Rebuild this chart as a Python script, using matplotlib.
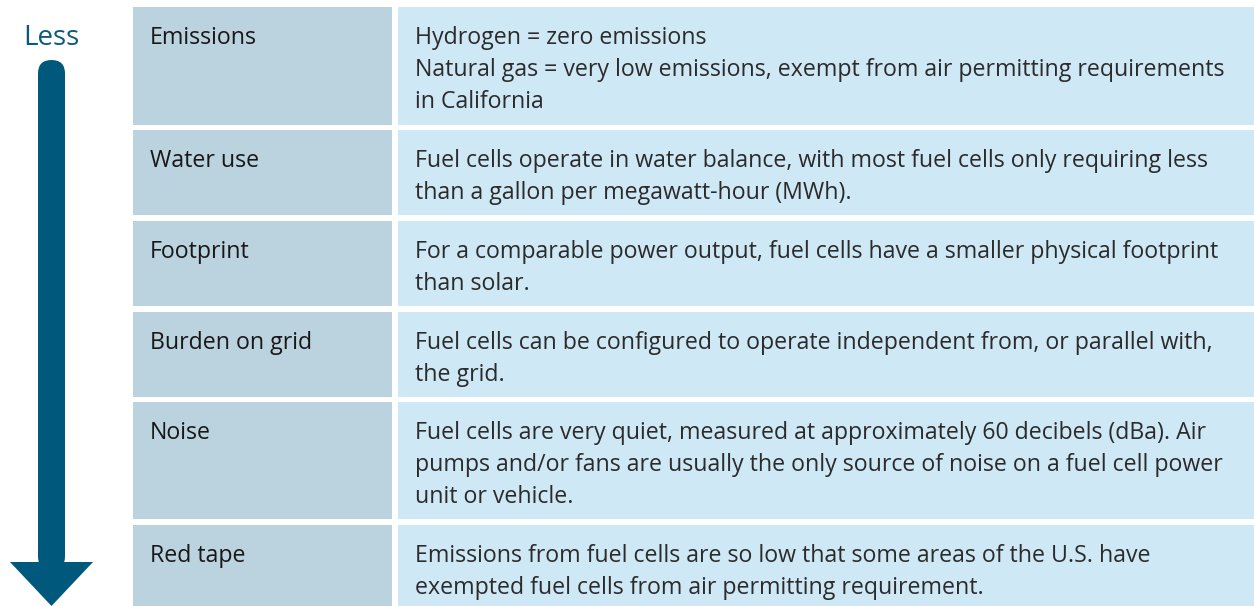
import matplotlib
matplotlib.use("Agg")
import matplotlib.pyplot as plt
from matplotlib.patches import Rectangle, FancyBboxPatch, Polygon

# table content
CATEGORIES = ["Emissions", "Water use", "Footprint", "Burden on grid", "Noise", "Red tape"]
DESCRIPTIONS = [
    ["Hydrogen = zero emissions",
     "Natural gas = very low emissions, exempt from air permitting requirements",
     "in California"],
    ["Fuel cells operate in water balance, with most fuel cells only requiring less",
     "than a gallon per megawatt-hour (MWh)."],
    ["For a comparable power output, fuel cells have a smaller physical footprint",
     "than solar."],
    ["Fuel cells can be configured to operate independent from, or parallel with,",
     "the grid."],
    ["Fuel cells are very quiet, measured at approximately 60 decibels (dBa). Air",
     "pumps and/or fans are usually the only source of noise on a fuel cell power",
     "unit or vehicle."],
    ["Emissions from fuel cells are so low that some areas of the U.S. have",
     "exempted fuel cells from air permitting requirement."],
]
ROW_TOPS = [7, 130, 221, 312, 402, 525]
ROW_BOTTOMS = [125, 215, 306, 397, 519, 606]
ARROW_LABEL = "Less"

LEFT_BG = "#bad3de"
RIGHT_BG = "#cfe8f5"
ARROW_C = "#00587c"
FONT = ["Open Sans", "DejaVu Sans"]
FS = 16.7
LINE_H = 32

W, H = 1254, 606
fig = plt.figure(figsize=(W / 100, H / 100), dpi=100)
ax = fig.add_axes([0, 0, 1, 1])
ax.set_xlim(0, W)
ax.set_ylim(H, 0)
ax.axis("off")

for cat, lines, top, bot in zip(CATEGORIES, DESCRIPTIONS, ROW_TOPS, ROW_BOTTOMS):
    ax.add_patch(Rectangle((133, top), 392 - 133, bot - top, color=LEFT_BG, lw=0))
    ax.add_patch(Rectangle((398, top), W - 398, bot - top, color=RIGHT_BG, lw=0))
    ax.text(150, top + 37, cat, fontsize=FS, family=FONT, color="#1a1718",
            va="baseline", ha="left")
    for i, ln in enumerate(lines):
        ax.text(415, top + 37 + i * LINE_H, ln, fontsize=FS, family=FONT,
                color="#2b2b2b", va="baseline", ha="left")

# arrow on the left
ax.text(51, 38, ARROW_LABEL, fontsize=20, family=FONT, color="#0a5a7c",
        ha="center", va="center")
ax.add_patch(FancyBboxPatch((38, 60), 27, 510, boxstyle="round,pad=0,rounding_size=13.5",
                            color=ARROW_C, lw=0))
ax.add_patch(Polygon([(10, 562), (93, 562), (51.5, 606)], closed=True,
                     color=ARROW_C, lw=0))

fig.savefig("out.png", dpi=100)
